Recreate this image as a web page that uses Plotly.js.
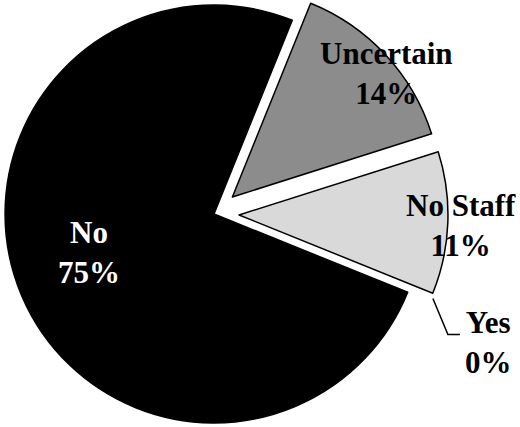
<!DOCTYPE html>
<html>
<head>
<meta charset="utf-8">
<script src="https://cdn.plot.ly/plotly-3.0.1.min.js"></script>
<style>
  html, body { margin: 0; padding: 0; width: 520px; height: 427px; overflow: hidden; background: #fff; }
  #chart { position: absolute; left: -20px; top: -20px; width: 540px; height: 468px; }
</style>
</head>
<body>
<div id="chart"></div>
<script>
// ---- data ----
const labels = ['Uncertain', 'No Staff', 'Yes', 'No'];
const values = [14, 11, 0, 75];

// ---- style ----
const colors = ['#8c8c8c', '#d9d9d9', '#ffffff', '#000000'];
const pulls = [0.12, 0.12, 0, 0];
const lineWidths = [1.5, 1.5, 0, 1.5];
const textColors = ['#000', '#000', '#000', '#fff'];
// label block centres in window pixels
const labelPos = [[386, 74], [461, 225], [489, 342], [89, 252]];

const DIV_LEFT = -20, DIV_TOP = -20, DIV_W = 540, DIV_H = 468;
const DOMAIN_X = [0, 468 / 540];
const ROTATION = 22;

const px = x => (x - DIV_LEFT) / DIV_W;
const py = y => 1 - (y - DIV_TOP) / DIV_H;

const total = values.reduce((a, b) => a + b, 0);
const pct = v => Math.round(v / total * 100) + '%';

const annotations = labels.map((lab, i) => ({
  text: '<b>' + lab + '<br>' + pct(values[i]) + '</b>',
  x: px(labelPos[i][0]), y: py(labelPos[i][1]),
  xref: 'paper', yref: 'paper', xanchor: 'center', yanchor: 'middle',
  showarrow: false, align: 'center',
  font: { family: 'Liberation Serif, Times New Roman, serif', size: 31, color: textColors[i] }
}));

// leader line for the zero slice, from the pie geometry
const maxPull = Math.max(...pulls);
const cx = DIV_LEFT + (DOMAIN_X[0] + DOMAIN_X[1]) / 2 * DIV_W;
const cy = DIV_TOP + DIV_H / 2;
const r = (DOMAIN_X[1] - DOMAIN_X[0]) * DIV_W / 2 / (1 + maxPull);
const yesIdx = labels.indexOf('Yes');
const before = values.slice(0, yesIdx).reduce((a, b) => a + b, 0);
const ang = (ROTATION + before / total * 360) * Math.PI / 180;
const sx = cx + 1.13 * r * Math.sin(ang), sy = cy - 1.13 * r * Math.cos(ang) - 4;
const ex = sx + 15, ey = sy + 36;
const fx = ex + 12;
const shapes = [{
  type: 'path', xref: 'paper', yref: 'paper',
  path: `M ${px(sx)},${py(sy)} L ${px(ex)},${py(ey)} L ${px(fx)},${py(ey)}`,
  line: { color: '#000', width: 1.5 }
}];

const trace = {
  type: 'pie',
  labels: labels,
  values: values,
  sort: false,
  direction: 'clockwise',
  rotation: ROTATION,
  pull: pulls,
  textinfo: 'none',
  hoverinfo: 'none',
  domain: { x: DOMAIN_X, y: [0, 1] },
  marker: { colors: colors, line: { color: '#000', width: lineWidths } }
};

Plotly.newPlot('chart', [trace], {
  width: DIV_W, height: DIV_H,
  margin: { l: 0, r: 0, t: 0, b: 0 },
  showlegend: false,
  paper_bgcolor: '#fff',
  annotations: annotations,
  shapes: shapes
}, { staticPlot: true });
</script>
</body>
</html>
